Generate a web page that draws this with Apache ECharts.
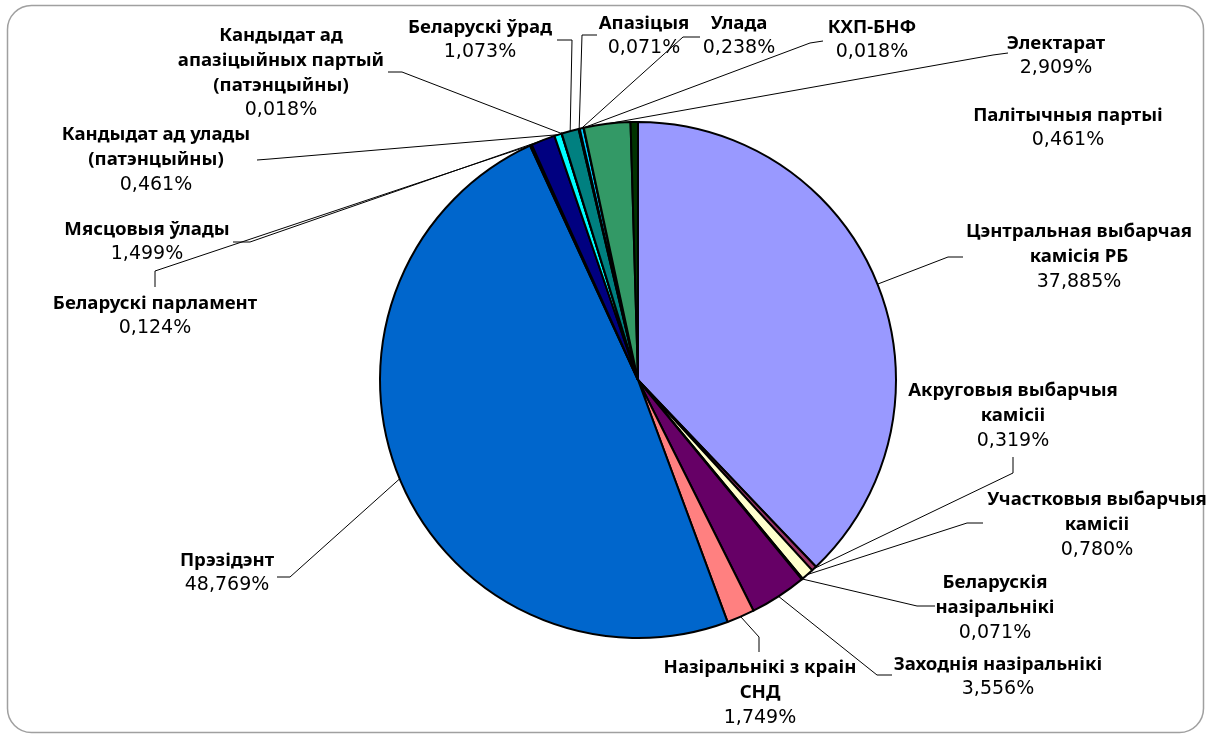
<!DOCTYPE html>
<html><head><meta charset="utf-8">
<script src="https://cdn.jsdelivr.net/npm/echarts@6/dist/echarts.min.js"></script>
<style>html,body{margin:0;padding:0;background:#fff}#c{width:1209px;height:735px}</style>
</head><body><div id="c"></div>
<script>
const categories = [
  "Цэнтральная выбарчая\nкамісія РБ",
  "Акруговыя выбарчыя\nкамісіі",
  "Участковыя выбарчыя\nкамісіі",
  "Беларускія\nназіральнікі",
  "Заходнія назіральнікі",
  "Назіральнікі з краін\nСНД",
  "Прэзідэнт",
  "Беларускі парламент",
  "Мясцовыя ўлады",
  "Кандыдат ад улады\n(патэнцыйны)",
  "Кандыдат ад\nапазіцыйных партый\n(патэнцыйны)",
  "Беларускі ўрад",
  "Апазіцыя",
  "Улада",
  "КХП-БНФ",
  "Электарат",
  "Палітычныя партыі"
];
const values = [37.885, 0.319, 0.780, 0.071, 3.556, 1.749, 48.769, 0.124, 1.499, 0.461, 0.018, 1.073, 0.071, 0.238, 0.018, 2.909, 0.461];
const colors = ["#9999FF", "#993366", "#FFFFCC", "#CCFFFF", "#660066", "#FF8080", "#0066CC", "#CCCCFF", "#000080", "#00FFFF", "#800080", "#008080", "#0000FF", "#00CCFF", "#CCFFFF", "#339966", "#003300"];
// label layout (style): [centerX, centerY, elbowX, elbowY, endX, endY]; null elbow = no leader line
const labelPos = [
  [1079, 257, 948, 257, 963, 257],
  [1013, 416, 1013, 473, 1013, 457],
  [1097, 525, 967, 523, 983, 523],
  [995, 608, 917, 606, 935, 606],
  [998, 677, 877, 675, 892, 675],
  [760, 693, 759, 637, 759, 652],
  [227, 573, 290, 577, 277, 577],
  [155, 316, 155, 271, 155, 287],
  [147, 242, 250, 242, 233, 242],
  [156, 160, 270, 159, 257, 160],
  [281, 73, 402, 72, 388, 72],
  [480, 40, 572, 40, 557, 40],
  [644, 36, 582, 35, 597, 35],
  [739, 36, 683, 37, 700, 37],
  [872, 40, 810, 43, 823, 41],
  [1056, 56, 993, 55, 1008, 53],
  [1068, 128, null, null, null, null]
];

const nameFont = 'Noto Sans', nameSize = 18.6;

const chart = echarts.init(document.getElementById('c'));
const fmt = v => v.toFixed(3).replace('.', ',') + '%';
const data = categories.map((n, i) => ({
  name: n, value: values[i],
  itemStyle: { color: colors[i] },
  labelLine: { show: labelPos[i][2] !== null }
}));
chart.setOption({
  animation: false,
  backgroundColor: '#fff',
  graphic: [{
    type: 'rect', silent: true,
    shape: { x: 7.5, y: 5.5, width: 1196, height: 727, r: 24 },
    style: { fill: 'none', stroke: '#a0a0a0', lineWidth: 1.5 }
  }],
  series: [{
    type: 'pie',
    center: [638, 380],
    radius: 258,
    startAngle: 90,
    clockwise: true,
    avoidLabelOverlap: false,
    emphasis: { disabled: true },
    itemStyle: { borderColor: '#000', borderWidth: 2 },
    label: {
      show: true,
      position: 'outside',
      formatter: p => p.name.split('\n').map(s => '{n|' + s + '}').join('\n') + '\n{p|' + fmt(p.value) + '}',
      rich: {
        n: { fontFamily: nameFont, fontWeight: 'bold', fontSize: nameSize, color: '#000', lineHeight: 25, align: 'center' },
        p: { fontFamily: 'DejaVu Sans', fontWeight: 'normal', fontSize: 19, color: '#000', lineHeight: 25, align: 'center' }
      }
    },
    labelLine: { show: true, length: 10, length2: 10, lineStyle: { color: '#000', width: 1 } },
    labelLayout: function (params) {
      const i = params.dataIndex;
      const lp = labelPos[i];
      const out = { x: lp[0], y: lp[1], align: 'center', verticalAlign: 'middle' };
      if (lp[2] !== null && params.labelLinePoints && params.labelLinePoints[0]) {
        const a = params.labelLinePoints[0];
        out.labelLinePoints = [[a[0], a[1]], [lp[2], lp[3]], [lp[4], lp[5]]];
      }
      return out;
    },
    data: data
  }]
});
</script></body></html>
